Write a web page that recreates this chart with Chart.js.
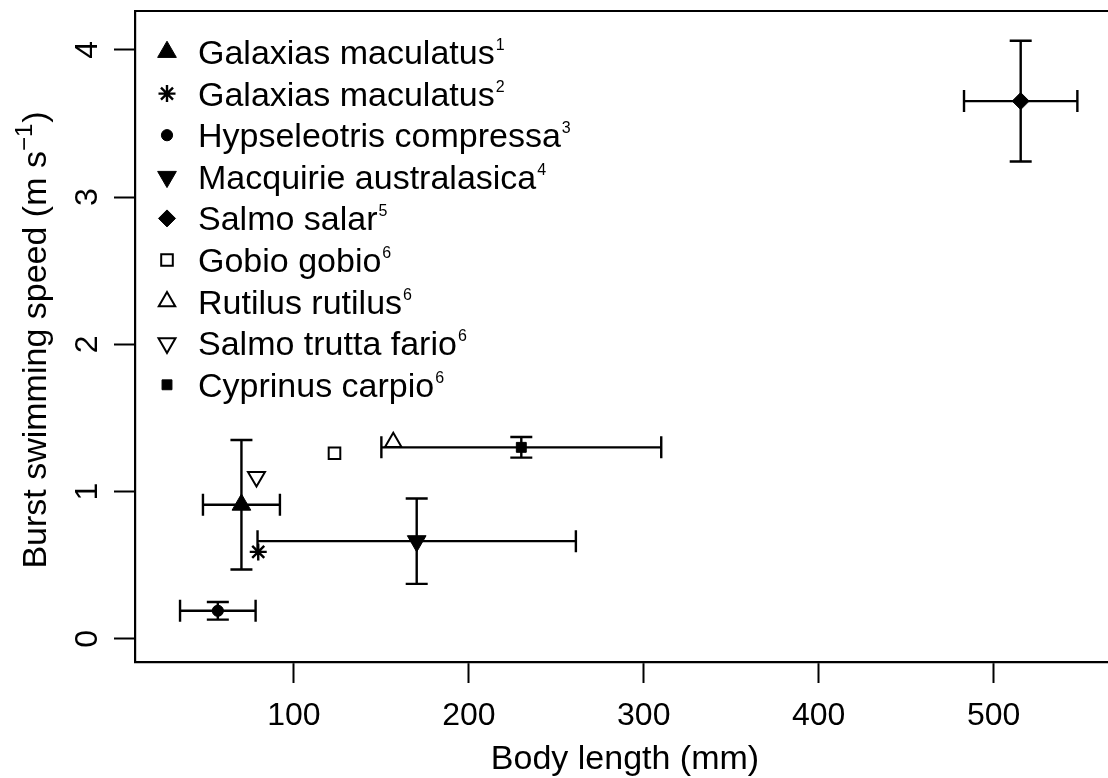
<!DOCTYPE html>
<html><head><meta charset="utf-8">
<script src="https://cdn.jsdelivr.net/npm/chart.js@4.4.1/dist/chart.umd.min.js"></script>
<style>html,body{margin:0;padding:0;background:#fff;overflow:hidden;width:1108px;height:778px}canvas{position:absolute;left:0;top:0}</style>
</head><body><canvas id="c" width="1112" height="778" style="width:1112px;height:778px"></canvas>
<script>
// ---- data ----
const species = ['Galaxias maculatus','Galaxias maculatus','Hypseleotris compressa','Macquirie australasica','Salmo salar','Gobio gobio','Rutilus rutilus','Salmo trutta fario','Cyprinus carpio'];
const refs = ['1','2','3','4','5','6','6','6','6'];
const bodyLength = [70, 79.6, 56.5, 170.2, 515.5, 123.2, 156.8, 78.6, 230];
const bodyLengthErr = [22, null, 21.6, 91, 32.4, null, null, null, 80];
const burstSpeed = [0.91, 0.59, 0.19, 0.663, 3.652, 1.26, 1.334, 1.10, 1.30];
const burstSpeedErr = [0.44, null, 0.06, 0.29, 0.41, null, null, null, 0.07];
const xTicks = [100, 200, 300, 400, 500];
const yTicks = [0, 1, 2, 3, 4];
const xRange = [9.15, 567.7];
const yRange = [-0.158, 4.264];
const xTitle = 'Body length (mm)';
const yTitle = ['Burst swimming speed (m s', '\u22121', ')'];

// ---- styles ----
const markers = [
  {style:'triangle', rot:0,   r:10.8, fill:'#000', bw:1},
  {style:'star',     rot:0,   r:8.5,  fill:'#000', bw:2.4},
  {style:'circle',   rot:0,   r:5.6,  fill:'#000', bw:1},
  {style:'triangle', rot:180, r:10.8, fill:'#000', bw:1},
  {style:'rectRot',  rot:0,   r:8.5,  fill:'#000', bw:1},
  {style:'rect',     rot:0,   r:8.2,  fill:'#fff', bw:2},
  {style:'triangle', rot:0,   r:9.5,  fill:'#fff', bw:2},
  {style:'triangle', rot:180, r:9.8,  fill:'#fff', bw:2},
  {style:'rect',     rot:0,   r:7,    fill:'#000', bw:1}
];
const FONT = '"Liberation Sans", Arial, Helvetica, sans-serif';

function fallbackDrawPoint(ctx, o, x, y){
  const r = o.radius; const rot = (o.rotation||0)*Math.PI/180;
  ctx.beginPath();
  if (o.pointStyle==='circle'){ ctx.arc(x,y,r,0,Math.PI*2); }
  else if (o.pointStyle==='triangle'){ let a=rot; ctx.moveTo(x+Math.sin(a)*r,y-Math.cos(a)*r); a+=2*Math.PI/3; ctx.lineTo(x+Math.sin(a)*r,y-Math.cos(a)*r); a+=2*Math.PI/3; ctx.lineTo(x+Math.sin(a)*r,y-Math.cos(a)*r); ctx.closePath(); }
  else if (o.pointStyle==='rect'){ const s=Math.SQRT1_2*r; ctx.rect(x-s,y-s,2*s,2*s); }
  else if (o.pointStyle==='rectRot'){ ctx.moveTo(x-r,y); ctx.lineTo(x,y-r); ctx.lineTo(x+r,y); ctx.lineTo(x,y+r); ctx.closePath(); }
  else if (o.pointStyle==='star'){ ctx.moveTo(x-r,y); ctx.lineTo(x+r,y); ctx.moveTo(x,y-r); ctx.lineTo(x,y+r); const d=Math.SQRT1_2*r; ctx.moveTo(x-d,y-d); ctx.lineTo(x+d,y+d); ctx.moveTo(x-d,y+d); ctx.lineTo(x+d,y-d); }
  ctx.fill(); if (o.borderWidth>0) ctx.stroke();
}
const drawPt = (Chart.helpers && Chart.helpers.drawPoint) ? Chart.helpers.drawPoint : fallbackDrawPoint;

const deco = {
  id: 'deco',
  beforeDatasetsDraw(chart){
    const ctx = chart.ctx, xs = chart.scales.x, ys = chart.scales.y;
    const cap = 11;
    ctx.save();
    ctx.strokeStyle = '#000'; ctx.lineWidth = 2.4; ctx.lineCap = 'butt';
    for (let i = 0; i < species.length; i++){
      const px = xs.getPixelForValue(bodyLength[i]);
      const py = ys.getPixelForValue(burstSpeed[i]);
      ctx.beginPath();
      if (bodyLengthErr[i] != null){
        const x1 = xs.getPixelForValue(bodyLength[i] - bodyLengthErr[i]);
        const x2 = xs.getPixelForValue(bodyLength[i] + bodyLengthErr[i]);
        ctx.moveTo(x1, py); ctx.lineTo(x2, py);
        ctx.moveTo(x1, py - cap); ctx.lineTo(x1, py + cap);
        ctx.moveTo(x2, py - cap); ctx.lineTo(x2, py + cap);
      }
      if (burstSpeedErr[i] != null){
        const y1 = ys.getPixelForValue(burstSpeed[i] - burstSpeedErr[i]);
        const y2 = ys.getPixelForValue(burstSpeed[i] + burstSpeedErr[i]);
        ctx.moveTo(px, y1); ctx.lineTo(px, y2);
        ctx.moveTo(px - cap, y1); ctx.lineTo(px + cap, y1);
        ctx.moveTo(px - cap, y2); ctx.lineTo(px + cap, y2);
      }
      ctx.stroke();
    }
    ctx.restore();
  },
  afterDraw(chart){
    const ctx = chart.ctx, xs = chart.scales.x, ys = chart.scales.y, ca = chart.chartArea;
    ctx.save();
    ctx.strokeStyle = '#000'; ctx.lineWidth = 2.2;
    ctx.beginPath(); ctx.moveTo(ca.left - 1, ca.top); ctx.lineTo(ca.right, ca.top); ctx.lineTo(ca.right, ca.bottom); ctx.stroke();
    ctx.fillStyle = '#000';
    ctx.font = '32px ' + FONT; ctx.textAlign = 'center'; ctx.textBaseline = 'alphabetic';
    xTicks.forEach(v => ctx.fillText(String(v), xs.getPixelForValue(v), 725));
    yTicks.forEach(v => {
      ctx.save(); ctx.translate(97, ys.getPixelForValue(v)); ctx.rotate(-Math.PI/2);
      ctx.fillText(String(v), 0, 0); ctx.restore();
    });
    ctx.font = '34px ' + FONT; ctx.textAlign = 'center';
    ctx.fillText(xTitle, 625, 769);
    ctx.save();
    ctx.translate(46, 340); ctx.rotate(-Math.PI/2);
    ctx.textAlign = 'left';
    ctx.font = '34px ' + FONT; const w0 = ctx.measureText(yTitle[0]).width; const w2 = ctx.measureText(yTitle[2]).width;
    ctx.font = '24px ' + FONT; const w1 = ctx.measureText(yTitle[1]).width;
    const tot = w0 + w1 + w2 + 1;
    let sx = -tot/2;
    ctx.font = '34px ' + FONT; ctx.fillText(yTitle[0], sx, 0); sx += w0;
    ctx.font = '24px ' + FONT; ctx.fillText(yTitle[1], sx, -14); sx += w1 + 1;
    ctx.font = '34px ' + FONT; ctx.fillText(yTitle[2], sx, 0);
    ctx.restore();
    const lx = 167, tx = 198, by0 = 64, dy = 41.6;
    for (let i = 0; i < species.length; i++){
      const by = by0 + i*dy;
      const m = markers[i];
      ctx.fillStyle = m.fill; ctx.strokeStyle = '#000'; ctx.lineWidth = m.bw;
      drawPt(ctx, {pointStyle:m.style, rotation:m.rot, radius:m.r, borderWidth:m.bw}, lx, by - 12);
      ctx.fillStyle = '#000'; ctx.textAlign = 'left';
      ctx.font = '34px ' + FONT;
      ctx.fillText(species[i], tx, by);
      const w = ctx.measureText(species[i]).width;
      ctx.font = '16px ' + FONT;
      ctx.fillText(refs[i], tx + w + 1, by - 14);
    }
    ctx.restore();
  }
};

const datasets = species.map((name, i) => ({
  label: name,
  data: [{x: bodyLength[i], y: burstSpeed[i]}],
  pointStyle: markers[i].style,
  pointRotation: markers[i].rot,
  pointRadius: markers[i].r,
  pointBackgroundColor: markers[i].fill,
  pointBorderColor: '#000',
  pointBorderWidth: markers[i].bw,
  showLine: false
}));

new Chart(document.getElementById('c'), {
  type: 'scatter',
  data: { datasets },
  options: {
    responsive: false, maintainAspectRatio: false, animation: false, events: [],
    devicePixelRatio: 1,
    layout: { autoPadding: false, padding: { left: 0, top: 11, right: 0, bottom: 0 } },
    plugins: { legend: { display: false }, tooltip: { enabled: false } },
    scales: {
      x: {
        type: 'linear', position: 'bottom', min: xRange[0], max: xRange[1],
        afterBuildTicks: s => { s.ticks = xTicks.map(v => ({value: v})); },
        afterFit: s => { s.height = 116; s.paddingLeft = 0; s.paddingRight = 0; },
        ticks: { display: false },
        grid: { drawOnChartArea: false, drawTicks: true, tickLength: 21, tickWidth: 2, color: '#000' },
        border: { display: true, color: '#000', width: 2.2 }
      },
      y: {
        type: 'linear', position: 'left', min: yRange[0], max: yRange[1],
        afterBuildTicks: s => { s.ticks = yTicks.map(v => ({value: v})); },
        afterFit: s => { s.width = 135; s.paddingTop = 0; s.paddingBottom = 0; },
        ticks: { display: false },
        grid: { drawOnChartArea: false, drawTicks: true, tickLength: 21, tickWidth: 2, color: '#000' },
        border: { display: true, color: '#000', width: 2.2 }
      }
    }
  },
  plugins: [deco]
});
</script>
</body></html>
